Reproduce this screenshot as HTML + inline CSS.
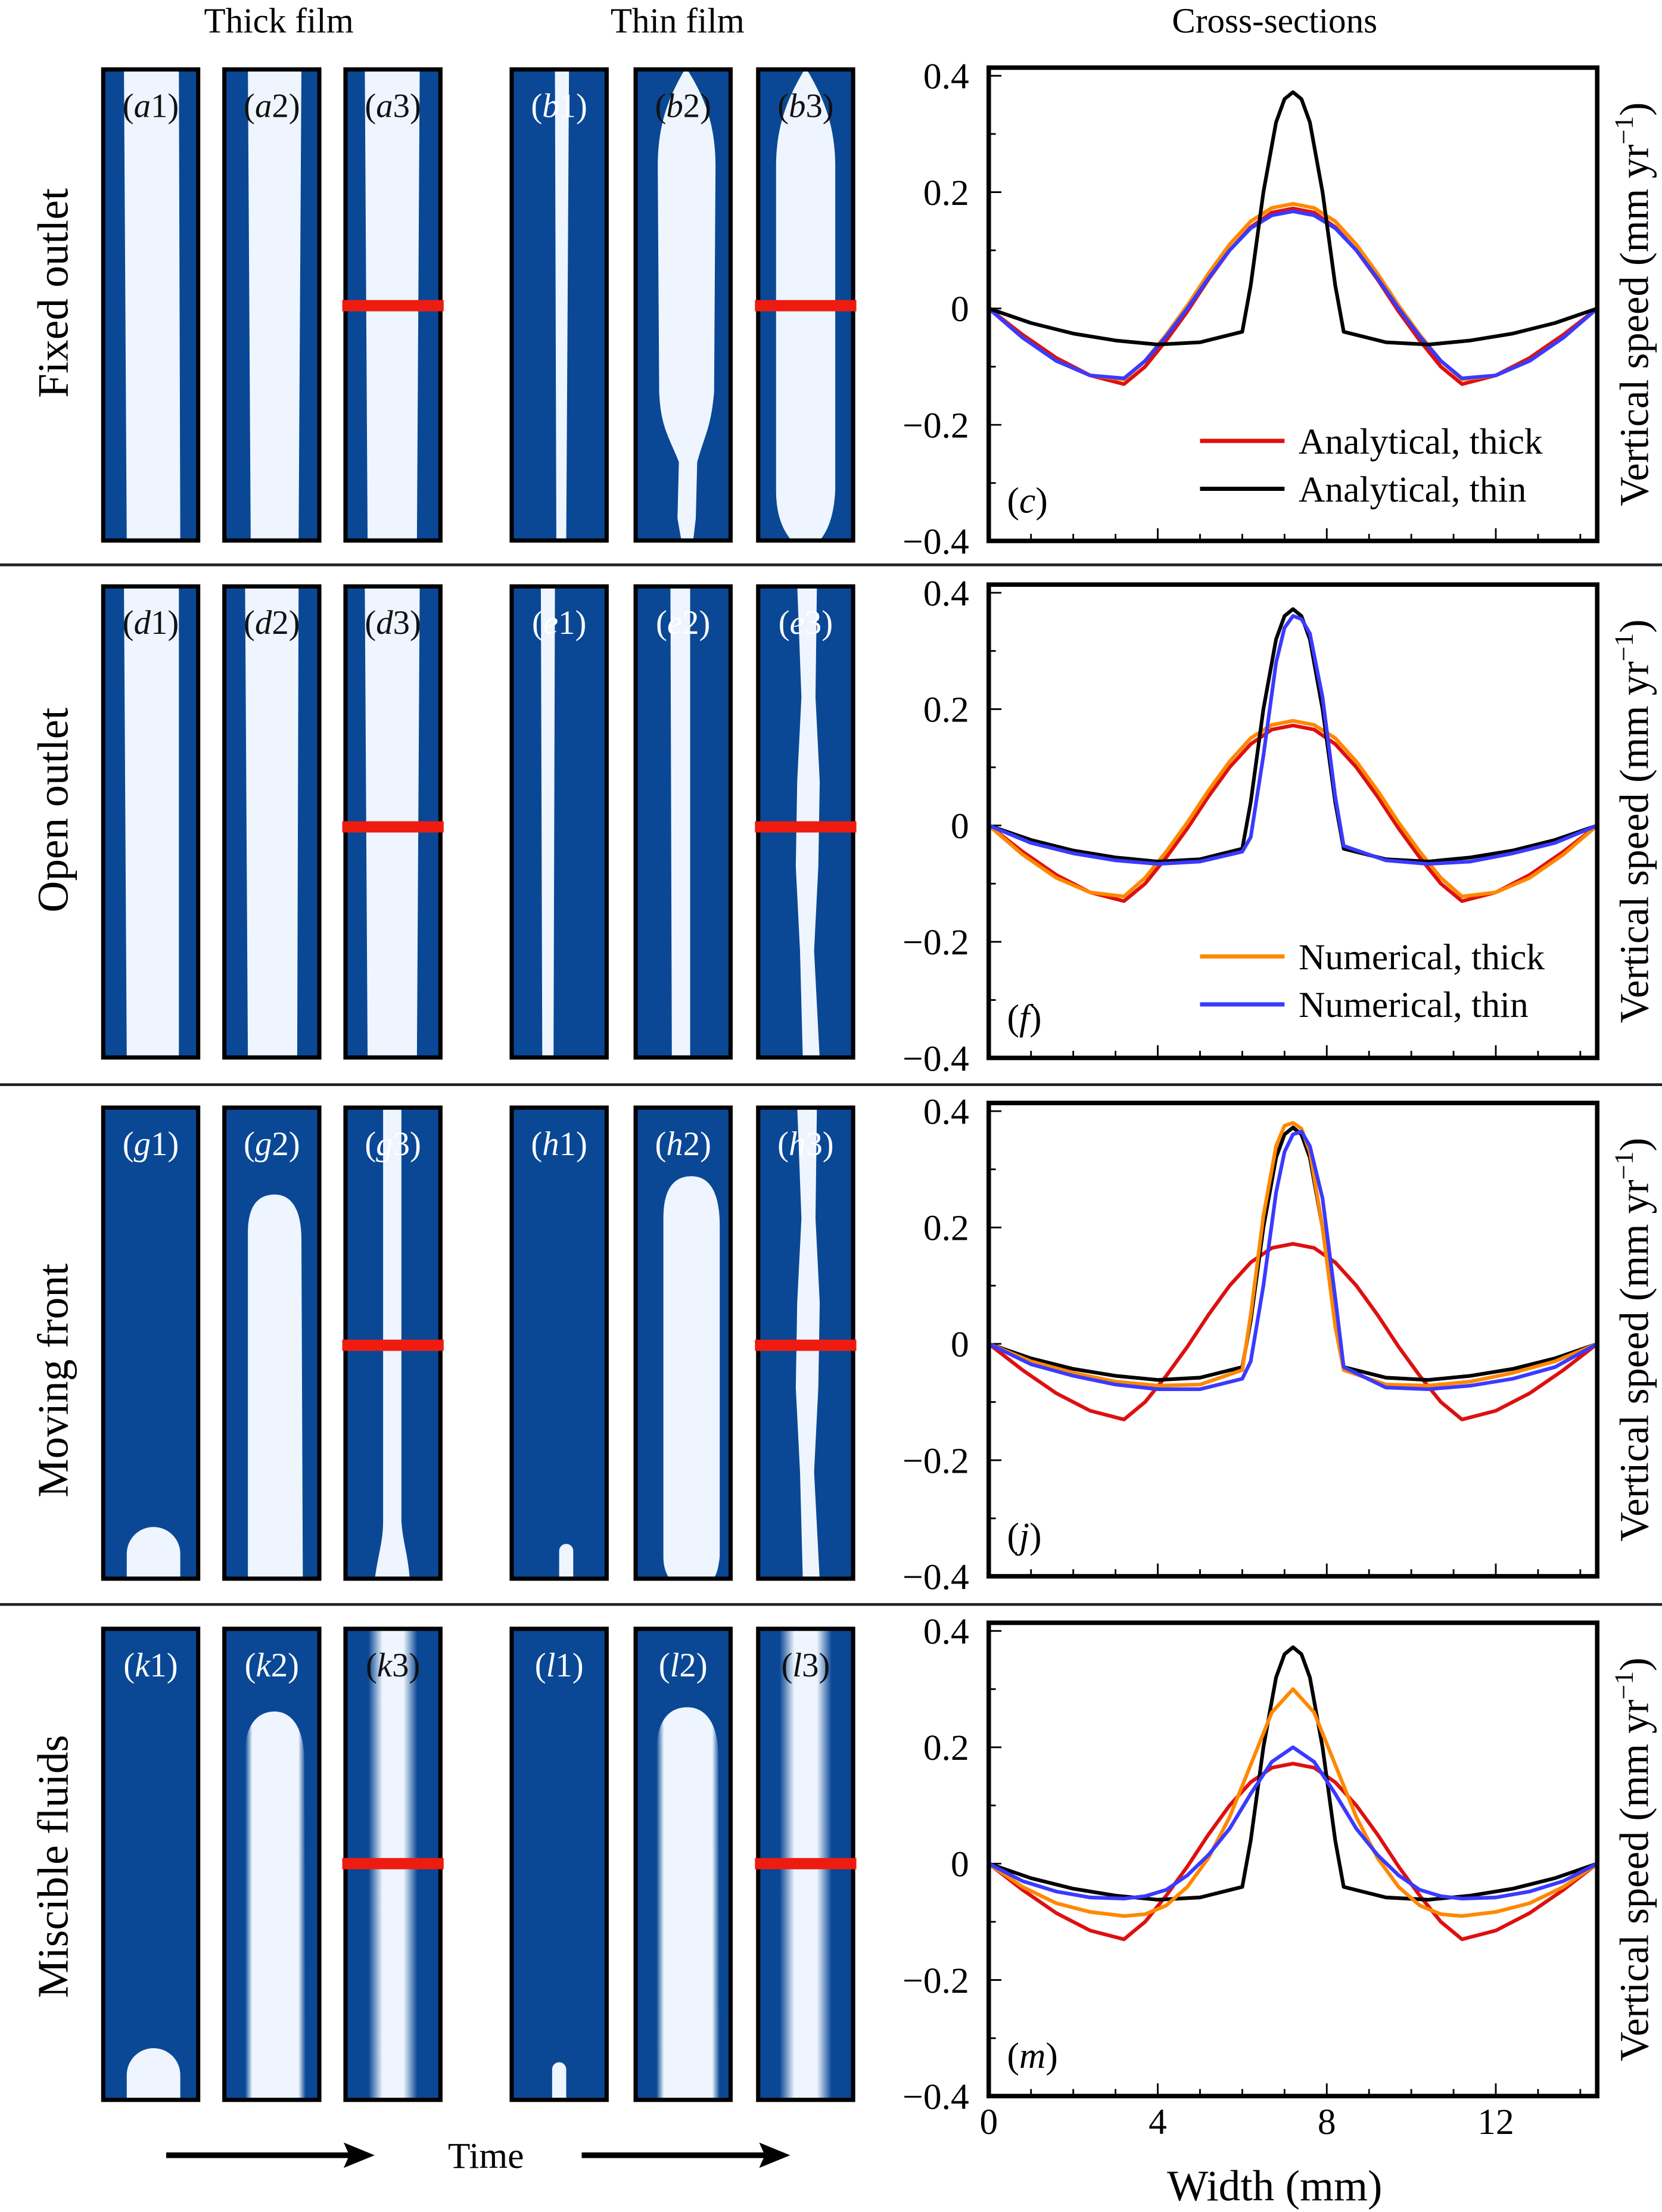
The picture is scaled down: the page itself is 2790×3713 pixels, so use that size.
<!DOCTYPE html>
<html><head><meta charset="utf-8"><style>
html,body{margin:0;padding:0;background:#fff}
svg{display:block;font-family:"Liberation Serif","Times New Roman","DejaVu Serif",serif}
text{font-family:"Liberation Serif","Times New Roman","DejaVu Serif",serif;fill:#000}
</style></head><body>
<svg id="fig" xmlns="http://www.w3.org/2000/svg" width="2790" height="3713" viewBox="0 0 1180 1570.3" preserveAspectRatio="none" font-family="Liberation Serif, serif">
<defs>
<linearGradient id="blurA" x1="0" x2="1" y1="0" y2="0">
<stop offset="0" stop-color="#0a4896"/><stop offset="0.22" stop-color="#0a4896"/><stop offset="0.38" stop-color="#eef5fe"/><stop offset="0.62" stop-color="#eef5fe"/><stop offset="0.78" stop-color="#0a4896"/><stop offset="1" stop-color="#0a4896"/>
</linearGradient>
<linearGradient id="blurB" x1="0" x2="1" y1="0" y2="0">
<stop offset="0" stop-color="#0a4896"/><stop offset="0.12" stop-color="#eef5fe"/><stop offset="0.88" stop-color="#eef5fe"/><stop offset="1" stop-color="#0a4896"/>
</linearGradient>
</defs>
<g id="strips"></g>
<g id="charts"></g>
<g font-size="25">
<text x="198" y="23" text-anchor="middle">Thick film</text>
<text x="481" y="23" text-anchor="middle">Thin film</text>
<text x="905" y="23" text-anchor="middle">Cross-sections</text>
</g>
<g font-size="31">
<text transform="translate(48,208) rotate(-90)" text-anchor="middle">Fixed outlet</text>
<text transform="translate(48,575) rotate(-90)" text-anchor="middle">Open outlet</text>
<text transform="translate(48,980) rotate(-90)" text-anchor="middle">Moving front</text>
<text transform="translate(48,1325) rotate(-90)" text-anchor="middle">Miscible fluids</text>
</g>
<g stroke="#222" stroke-width="2">
<line x1="0" x2="1180" y1="401" y2="401"/><line x1="0" x2="1180" y1="770" y2="770"/><line x1="0" x2="1180" y1="1139" y2="1139"/>
</g>
<g>
<line x1="118" x2="250" y1="1530" y2="1530" stroke="#000" stroke-width="4"/>
<polygon points="266,1530 244,1521 248,1530 244,1539" fill="#000"/>
<line x1="413" x2="545" y1="1530" y2="1530" stroke="#000" stroke-width="4"/>
<polygon points="561,1530 539,1521 543,1530 539,1539" fill="#000"/>
<text x="345" y="1539" font-size="26" text-anchor="middle">Time</text>
</g>
<text x="905" y="1562" font-size="31" text-anchor="middle">Width (mm)</text>
</svg>
<script>
// ===== chart data =====
const xThick=[0,0.8,1.6,2.4,3.2,3.7,4.2,4.7,5.2,5.7,6.2,6.7,7.2,7.7,8.2,8.7,9.2,9.7,10.2,10.7,11.2,12.0,12.8,13.6,14.4];
const xThin=[0,1,2,3,4,5,6.0,6.2,6.5,6.8,7.0,7.2,7.4,7.6,7.9,8.2,8.4,9.4,10.4,11.4,12.4,13.4,14.4];
const redAnalyticalThick=[0,-0.045,-0.085,-0.115,-0.13,-0.10,-0.055,-0.005,0.05,0.10,0.14,0.165,0.172,0.165,0.14,0.10,0.05,-0.005,-0.055,-0.10,-0.13,-0.115,-0.085,-0.045,0];
const blackAnalyticalThin=[0,-0.025,-0.043,-0.055,-0.062,-0.058,-0.04,0.04,0.2,0.32,0.36,0.372,0.36,0.32,0.2,0.04,-0.04,-0.058,-0.062,-0.055,-0.043,-0.025,0];
const orangeC=[0,-0.05,-0.09,-0.115,-0.122,-0.09,-0.045,0.005,0.06,0.11,0.15,0.173,0.18,0.173,0.15,0.11,0.06,0.005,-0.045,-0.09,-0.122,-0.115,-0.09,-0.05,0];
const blueC=[0,-0.05,-0.09,-0.115,-0.12,-0.09,-0.048,0.0,0.052,0.10,0.138,0.16,0.167,0.16,0.138,0.10,0.052,0.0,-0.048,-0.09,-0.12,-0.115,-0.09,-0.05,0];
const orangeF=[0,-0.05,-0.09,-0.115,-0.122,-0.09,-0.045,0.005,0.06,0.11,0.15,0.173,0.18,0.173,0.15,0.11,0.06,0.005,-0.045,-0.09,-0.122,-0.115,-0.09,-0.05,0];
const blueF=[0,-0.03,-0.048,-0.06,-0.066,-0.062,-0.045,-0.02,0.12,0.28,0.34,0.36,0.355,0.33,0.22,0.05,-0.035,-0.06,-0.066,-0.062,-0.048,-0.03,0];
const orangeJ=[0,-0.03,-0.05,-0.065,-0.072,-0.07,-0.045,0.05,0.22,0.34,0.375,0.38,0.37,0.33,0.2,0.03,-0.045,-0.07,-0.072,-0.065,-0.05,-0.03,0];
const blueJ=[0,-0.035,-0.055,-0.07,-0.078,-0.078,-0.06,-0.03,0.1,0.26,0.33,0.36,0.365,0.34,0.25,0.08,-0.04,-0.075,-0.078,-0.072,-0.06,-0.04,0];
const orangeM=[0,-0.04,-0.068,-0.083,-0.09,-0.087,-0.072,-0.04,0.01,0.08,0.17,0.26,0.30,0.26,0.17,0.08,0.01,-0.04,-0.072,-0.087,-0.09,-0.083,-0.068,-0.04,0];
const blueM=[0,-0.03,-0.048,-0.058,-0.06,-0.056,-0.045,-0.02,0.015,0.06,0.12,0.175,0.2,0.175,0.12,0.06,0.015,-0.02,-0.045,-0.056,-0.06,-0.058,-0.048,-0.03,0];
const yTickValues=[0.4,0.2,0,-0.2,-0.4];
const yTickLabels=["0.4","0.2","0","\u22120.2","\u22120.4"];
const xTickValues=[0,4,8,12];
const xTickLabels=["0","4","8","12"];
const panelLetters=["c","f","j","m"];

const NS="http://www.w3.org/2000/svg";
function mk(tag,attrs,parent){const e=document.createElementNS(NS,tag);for(const k in attrs)e.setAttribute(k,attrs[k]);parent.appendChild(e);return e;}

// ===== strips =====
const S=document.getElementById('strips');
const colX=[72,158,244,362,450,537];
const rowY=[48,415,785,1155];
const SW=70,SH=337,BL="#0a4896",WH="#eef5fe";
const stripIds=[["a1","a2","a3","b1","b2","b3"],["d1","d2","d3","e1","e2","e3"],["g1","g2","g3","h1","h2","h3"],["k1","k2","k3","l1","l2","l3"]];
const labelWhite=[[0,0,0,1,0,0],[0,0,0,1,1,1],[1,1,1,1,1,1],[1,1,0,1,1,0]];
const redY=[217,587,955,1323];
for(let r=0;r<4;r++){for(let c=0;c<6;c++){
 const x=colX[c],y=rowY[r];
 const g=mk('g',{},S);
 
 
 mk('rect',{x:x,y:y,width:SW,height:SH,fill:BL},g);
 const id=stripIds[r][c];const yb=y+SH;
 let p;
 switch(id){
  case 'a1':p=`M${x+16},${y} L${x+55},${y} L${x+56},${yb} L${x+18},${yb}Z`;break;
  case 'a2':p=`M${x+18},${y} L${x+56},${y} L${x+54},${yb} L${x+20},${yb}Z`;break;
  case 'a3':case 'd3':p=`M${x+15},${y} L${x+54},${y} L${x+52},${yb} L${x+17},${yb}Z`;break;
  case 'b1':p=`M${x+32},${y} L${x+42},${y} L${x+40},${yb} L${x+33},${yb}Z`;break;
  case 'b2':p=`M${x+37},${y} C${x+50},${y+20} ${x+58},${y+40} ${x+58},${y+70} L${x+57},${y+230} C${x+55},${y+255} ${x+50},${y+262} ${x+45},${y+280} L${x+44},${y+320} L${x+42},${yb} L${x+34},${yb} L${x+31},${y+320} L${x+32},${y+280} C${x+25},${y+262} ${x+19},${y+255} ${x+18},${y+230} L${x+17},${y+70} C${x+17},${y+40} ${x+25},${y+20} ${x+37},${y}Z`;break;
  case 'b3':p=`M${x+35},${y} C${x+47},${y+20} ${x+56},${y+40} ${x+56},${y+70} L${x+56},${y+300} C${x+55},${y+320} ${x+50},${y+330} ${x+44},${yb} L${x+26},${yb} C${x+20},${y+330} ${x+14},${y+320} ${x+14},${y+300} L${x+14},${y+70} C${x+14},${y+40} ${x+23},${y+20} ${x+35},${y}Z`;break;
  case 'd1':p=`M${x+16},${y} L${x+55},${y} L${x+55},${yb} L${x+18},${yb}Z`;break;
  case 'd2':p=`M${x+16},${y} L${x+54},${y} L${x+53},${yb} L${x+18},${yb}Z`;break;
  case 'e1':p=`M${x+22},${y} L${x+32},${y} L${x+31},${yb} L${x+23},${yb}Z`;break;
  case 'e2':p=`M${x+26},${y} L${x+40},${y} L${x+40},${yb} L${x+27},${yb}Z`;break;
  case 'e3':case 'h3':p=`M${x+29},${y} L${x+43},${y} L${x+42},${y+80} L${x+45},${y+140} L${x+44},${y+200} L${x+41},${y+260} L${x+45},${yb} L${x+33},${yb} L${x+31},${y+260} L${x+28},${y+200} L${x+29},${y+140} L${x+32},${y+80}Z`;break;
  case 'g1':case 'k1':p=`M${x+18},${yb} L${x+18},${y+318} A19,19 0 0 1 ${x+56},${y+318} L${x+56},${yb}Z`;break;
  case 'g2':p=`M${x+18},${yb} L${x+18},${y+90} C${x+18},${y+70} ${x+26},${y+63} ${x+37},${y+63} C${x+48},${y+63} ${x+56},${y+72} ${x+56},${y+95} L${x+57},${yb}Z`;break;
  case 'g3':p=`M${x+28},${y} L${x+41},${y} L${x+41},${y+295} C${x+42},${y+310} ${x+46},${y+320} ${x+47},${yb} L${x+22},${yb} C${x+24},${y+320} ${x+28},${y+310} ${x+28},${y+295}Z`;break;
  case 'h1':p=`M${x+35},${yb} L${x+35},${y+316} A5,5 0 0 1 ${x+45},${y+316} L${x+45},${yb}Z`;break;
  case 'l1':p=`M${x+30},${yb} L${x+30},${y+314} A5,5 0 0 1 ${x+40},${y+314} L${x+40},${yb}Z`;break;
  case 'h2':p=`M${x+21},${yb} L${x+21},${y+80} C${x+21},${y+58} ${x+29},${y+50} ${x+41},${y+50} C${x+53},${y+50} ${x+61},${y+60} ${x+61},${y+85} L${x+61},${y+320} C${x+60},${y+330} ${x+58},${y+334} ${x+56},${yb} L${x+26},${yb} C${x+23},${y+332} ${x+21},${y+328} ${x+21},${y+320}Z`;break;
 }
 if(p){const e=mk('path',{d:p,fill:WH},g);}
 if(id==='k2'){mk('path',{d:`M${x+16},${yb} L${x+16},${y+90} C${x+16},${y+68} ${x+26},${y+60} ${x+37},${y+60} C${x+48},${y+60} ${x+58},${y+70} ${x+58},${y+95} L${x+59},${yb}Z`,fill:'url(#blurB)'},g);}
 if(id==='l2'){mk('path',{d:`M${x+16},${yb} L${x+16},${y+90} C${x+16},${y+65} ${x+26},${y+57} ${x+38},${y+57} C${x+50},${y+57} ${x+60},${y+67} ${x+60},${y+92} L${x+61},${yb}Z`,fill:'url(#blurB)'},g);}
 if(id==='k3'){mk('rect',{x:x+4,y:y,width:62,height:SH,fill:'url(#blurA)'},g);}
 if(id==='l3'){mk('rect',{x:x+2,y:y,width:66,height:SH,fill:'url(#blurA)'},g);}
 mk('rect',{x:x+1.3,y:y+1.3,width:SW-2.6,height:SH-2.6,fill:'none',stroke:'#000','stroke-width':3},g);
 if(c===2||c===5){const rl=mk('rect',{x:x-1,y:redY[r]-4,width:SW+2,height:8,fill:'#ee1c10'},g);}
 const L=id[0],n=id.slice(1);
 const t=mk('text',{x:x+35,y:y+35,'font-size':24,'text-anchor':'middle'},g);
 
 
 t.style.fill=labelWhite[r][c]?'#fff':'#111';
 t.appendChild(document.createTextNode('('));
 const ts=mk('tspan',{'font-style':'italic'},t);ts.textContent=L;
 t.appendChild(document.createTextNode(n+')'));
}}

// ===== charts =====
const C=document.getElementById('charts');
const X0=702,XMAX=14.4,PXMM=30.0,YS=413;
const zeroY=[219,586,954,1323];
const series=[
 [[xThick,redAnalyticalThick,'#dd1010'],[xThick,orangeC,'#ff8800'],[xThick,blueC,'#3a3aff'],[xThin,blackAnalyticalThin,'#000']],
 [[xThick,redAnalyticalThick,'#dd1010'],[xThick,orangeF,'#ff8800'],[xThin,blackAnalyticalThin,'#000'],[xThin,blueF,'#3a3aff']],
 [[xThick,redAnalyticalThick,'#dd1010'],[xThin,blackAnalyticalThin,'#000'],[xThin,orangeJ,'#ff8800'],[xThin,blueJ,'#3a3aff']],
 [[xThick,redAnalyticalThick,'#dd1010'],[xThin,blackAnalyticalThin,'#000'],[xThick,orangeM,'#ff8800'],[xThick,blueM,'#3a3aff']]
];
for(let r=0;r<4;r++){
 const z=zeroY[r];
 const sx=v=>X0+v*PXMM, sy=v=>z-v*YS;
 const top=z-171,bot=z+165,right=sx(XMAX);
 const g=mk('g',{},C);
 
 
 for(let m=1;m<=14;m++){const len=(m%4===0)?9:5;mk('line',{x1:sx(m),x2:sx(m),y1:bot,y2:bot-len,stroke:'#000','stroke-width':1.2},g);}
 for(let k=-3;k<=4;k++){const v=k/10;const len=(k%2===0)?9:5;mk('line',{x1:X0,x2:X0+len,y1:sy(v),y2:sy(v),stroke:'#000','stroke-width':1.2},g);}
 yTickValues.forEach((v,i)=>{const t=mk('text',{x:X0-14,y:sy(v)+9,'font-size':26,'text-anchor':'end'},g);t.textContent=yTickLabels[i];});
 if(r===3){xTickValues.forEach((v,i)=>{const t=mk('text',{x:sx(v),y:bot+27,'font-size':26,'text-anchor':'middle'},g);t.textContent=xTickLabels[i];});}
 series[r].forEach(s=>{
  const pts=s[0].map((xv,i)=>sx(xv).toFixed(1)+','+sy(s[1][i]).toFixed(1)).join(' ');
  const pl=mk('polyline',{points:pts,fill:'none',stroke:s[2],'stroke-width':2.6,'stroke-linejoin':'round'},g);
  
  
 });
 mk('rect',{x:X0,y:top,width:right-X0,height:bot-top,fill:'none',stroke:'#000','stroke-width':3.2},g);
 const pt=mk('text',{x:X0+13,y:bot-20,'font-size':26},g);
 
 
 pt.appendChild(document.createTextNode('('));const it=mk('tspan',{'font-style':'italic'},pt);it.textContent=panelLetters[r];pt.appendChild(document.createTextNode(')'));
 const yt=mk('text',{transform:`translate(1170,${(top+bot)/2}) rotate(-90)`,'font-size':29,'text-anchor':'middle'},g);
 
 
 yt.appendChild(document.createTextNode('Vertical speed (mm yr'));
 const sup=mk('tspan',{dy:-11,'font-size':19},yt);sup.textContent='\u22121';
 const cl=mk('tspan',{dy:11},yt);cl.textContent=')';
}
function legend(y,color,label){
 const g=mk('g',{},C);
 
 
 mk('line',{x1:852,x2:912,y1:y,y2:y,stroke:color,'stroke-width':3},g);
 const t=mk('text',{x:922,y:y+9,'font-size':26},g);t.textContent=label;
}
legend(313,'#dd1010','Analytical, thick');
legend(347,'#000','Analytical, thin');
legend(679,'#ff8800','Numerical, thick');
legend(713,'#3a3aff','Numerical, thin');
</script>
</body></html>
